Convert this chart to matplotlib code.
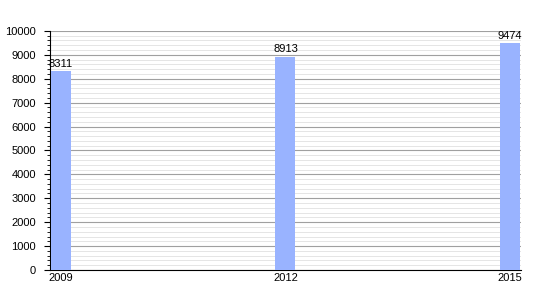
import matplotlib
matplotlib.use('Agg')
import matplotlib.pyplot as plt
from matplotlib.ticker import MultipleLocator

years = ['2009', '2012', '2015']
population = [8311, 8913, 9474]

plt.rcParams['font.family'] = ['Liberation Sans', 'DejaVu Sans']

fig = plt.figure(figsize=(5.5, 3), dpi=100)
ax = fig.add_axes([0.091, 0.1, 0.856, 0.797])

x = list(range(len(years)))
w = 0.089
ax.bar(x, population, width=w, color='#99b3ff', zorder=3)
for xi, v in zip(x, population):
    ax.text(xi, v + 100, str(v), ha='center', va='bottom', fontsize=8, zorder=4)

ax.set_xlim(-w / 2 - 0.003, 2 + w / 2 + 0.003)
ax.set_ylim(0, 10000)
ax.set_xticks(x)
ax.set_xticklabels(years)
ax.yaxis.set_major_locator(MultipleLocator(1000))
ax.yaxis.set_minor_locator(MultipleLocator(200))
ax.grid(axis='y', which='major', color='#a0a0a0', linewidth=0.8, zorder=0)
ax.grid(axis='y', which='minor', color='#e0e0e0', linewidth=0.6, zorder=0)

for s in ['top', 'right']:
    ax.spines[s].set_visible(False)
ax.tick_params(axis='y', which='major', length=4, labelsize=8, pad=6)
ax.tick_params(axis='y', which='minor', length=2)
ax.tick_params(axis='x', length=0, labelsize=8, pad=2)

fig.savefig('out.png', dpi=100)
